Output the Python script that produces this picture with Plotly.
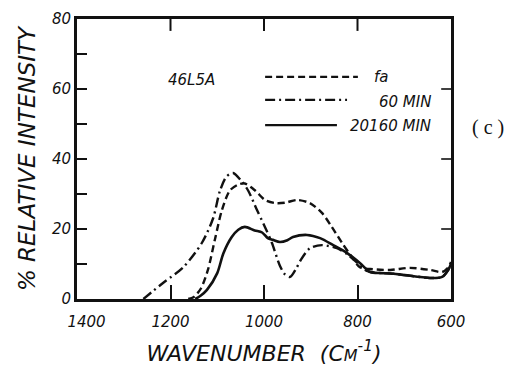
import plotly.graph_objects as go

# IR spectra of sample 46L5A at three stages
wn_fa = [1162, 1150, 1135, 1120, 1105, 1090, 1073, 1055, 1041, 1019, 998, 976, 955,
         929, 902, 876, 855, 833, 812, 795, 767, 730, 688, 645, 619, 606, 600]
int_fa = [0, 0.6, 3, 8.3, 17, 25.4, 31, 32.7, 33, 31, 28.3, 27.4, 27.5,
          28.3, 27.4, 24.6, 20.6, 16, 12, 9.1, 8.5, 8.3, 8.9, 8.3, 7.7, 9, 10.6]

wn_60 = [1258, 1240, 1212, 1173, 1133, 1109, 1094, 1080, 1066, 1050, 1034, 1015, 998,
         983, 966, 955, 944, 932, 922, 902, 876, 844, 822, 800, 780, 750, 730, 700,
         645, 619, 606, 600]
int_60 = [0, 2, 5, 9, 16, 23, 31, 35, 36, 34, 31, 25.4, 20.6,
          16, 9.5, 7, 6.3, 8.5, 11, 14.5, 15.4, 14.5, 12.8, 10.3, 8, 7.4, 7.3, 6.9,
          6, 6.3, 8.3, 10]

wn_20160 = [1147, 1135, 1122, 1100, 1087, 1069, 1055, 1041, 1020, 1004, 992, 981, 966,
            950, 938, 908, 880, 852, 822, 795, 773, 750, 730, 703, 645, 619, 606, 600]
int_20160 = [0, 1, 2.6, 7.4, 13, 17.7, 19.8, 20.6, 19.6, 19, 17.4, 16.9, 16.3,
             16.8, 17.7, 18.3, 17.4, 15.4, 13.1, 10.3, 7.7, 7.4, 7.3, 6.9, 6, 6.3, 8.3, 10]

x_ticks = [1400, 1200, 1000, 800, 600]
x_labels = ["\u00a0\u00a0\u00a0\u00a01400", "1200", "1000", "800", "600"]
y_ticks = [0, 10, 20, 30, 40, 50, 60, 70, 80]
y_labels = ["0", "", "20", "", "40", "", "60", "", "80"]
top_ticks = [1200, 1000, 800]
right_ticks = [20, 40, 60]

X_RANGE = [1400, 600]
Y_RANGE = [0, 80]
INK = "#111111"
FONT = "DejaVu Sans"
DASH_FA = "7px,4px"
DASH_60 = "10px,4px,2px,4px"

fig = go.Figure()
fig.add_trace(go.Scatter(x=wn_fa, y=int_fa, mode="lines",
                         line=dict(color=INK, width=2.4, dash=DASH_FA, shape="spline", smoothing=0.8)))
fig.add_trace(go.Scatter(x=wn_60, y=int_60, mode="lines",
                         line=dict(color=INK, width=2.4, dash=DASH_60, shape="spline", smoothing=0.8)))
fig.add_trace(go.Scatter(x=wn_20160, y=int_20160, mode="lines",
                         line=dict(color=INK, width=2.6, shape="spline", smoothing=0.8)))

# inward ticks along the top and right edges, built from the axis scale
top_len = 3.4  # in y units
right_len = 21  # in wavenumber units
tx, ty = [], []
for v in top_ticks:
    tx += [v, v, None]
    ty += [Y_RANGE[1], Y_RANGE[1] - top_len, None]
rx, ry = [], []
for v in right_ticks:
    rx += [X_RANGE[1], X_RANGE[1] + right_len, None]
    ry += [v, v, None]
fig.add_trace(go.Scatter(x=tx, y=ty, mode="lines", line=dict(color=INK, width=2),
                         hoverinfo="skip"))
fig.add_trace(go.Scatter(x=rx, y=ry, mode="lines", line=dict(color=INK, width=1.6),
                         hoverinfo="skip"))

fig.update_layout(
    width=511, height=371,
    margin=dict(l=77, r=60, t=19, b=72),
    paper_bgcolor="white", plot_bgcolor="white",
    showlegend=False,
    font=dict(family=FONT, color=INK),
    xaxis=dict(range=X_RANGE, tickvals=x_ticks, ticktext=x_labels,
               ticks="inside", ticklen=14, tickwidth=2.2, tickcolor=INK,
               ticklabelstandoff=7, automargin=False,
               showline=True, linewidth=2.5, linecolor=INK, mirror=True,
               showgrid=False, zeroline=False,
               tickfont=dict(size=15, style="italic", family=FONT),
               title=dict(text="WAVENUMBER  (C<span style='font-size:16px'>M</span><sup>-1</sup>)",
                          font=dict(size=22, style="italic", family=FONT), standoff=16)),
    yaxis=dict(range=Y_RANGE, tickvals=y_ticks, ticktext=y_labels,
               ticks="inside", ticklen=10, tickwidth=1.8, tickcolor=INK,
               automargin=False,
               showline=True, linewidth=3, linecolor=INK, mirror=True,
               showgrid=False, zeroline=False,
               tickfont=dict(size=15, style="italic", family=FONT),
               title=dict(text="% RELATIVE INTENSITY",
                          font=dict(size=23, style="italic", family=FONT), standoff=10)),
)

# key
key = [
    (0.793, DASH_FA, 0.751),
    (0.711, DASH_60, 0.722),
    (0.621, "solid", 0.695),
]
for y, dash, x1 in key:
    fig.add_shape(type="line", xref="paper", yref="paper", x0=0.503, x1=x1, y0=y, y1=y,
                  line=dict(color=INK, width=2.2, dash=dash))

txt = dict(size=15, style="italic", family=FONT, color=INK)
fig.add_annotation(xref="paper", yref="paper", x=0.305, y=0.782, text="46L5A",
                   showarrow=False, xanchor="center", yanchor="middle", font=txt)
fig.add_annotation(xref="paper", yref="paper", x=0.789, y=0.793, text="fa",
                   showarrow=False, xanchor="left", yanchor="middle", font=txt)
fig.add_annotation(xref="paper", yref="paper", x=0.952, y=0.704, text="60 MIN",
                   showarrow=False, xanchor="right", yanchor="middle", font=txt)
fig.add_annotation(xref="paper", yref="paper", x=0.952, y=0.618, text="20160 MIN",
                   showarrow=False, xanchor="right", yanchor="middle", font=txt)
fig.add_annotation(xref="paper", yref="paper", x=1.099, y=0.614, text="( c )",
                   showarrow=False, xanchor="center", yanchor="middle",
                   font=dict(size=20, family="Liberation Serif", color=INK))

fig.write_html("out.html")
